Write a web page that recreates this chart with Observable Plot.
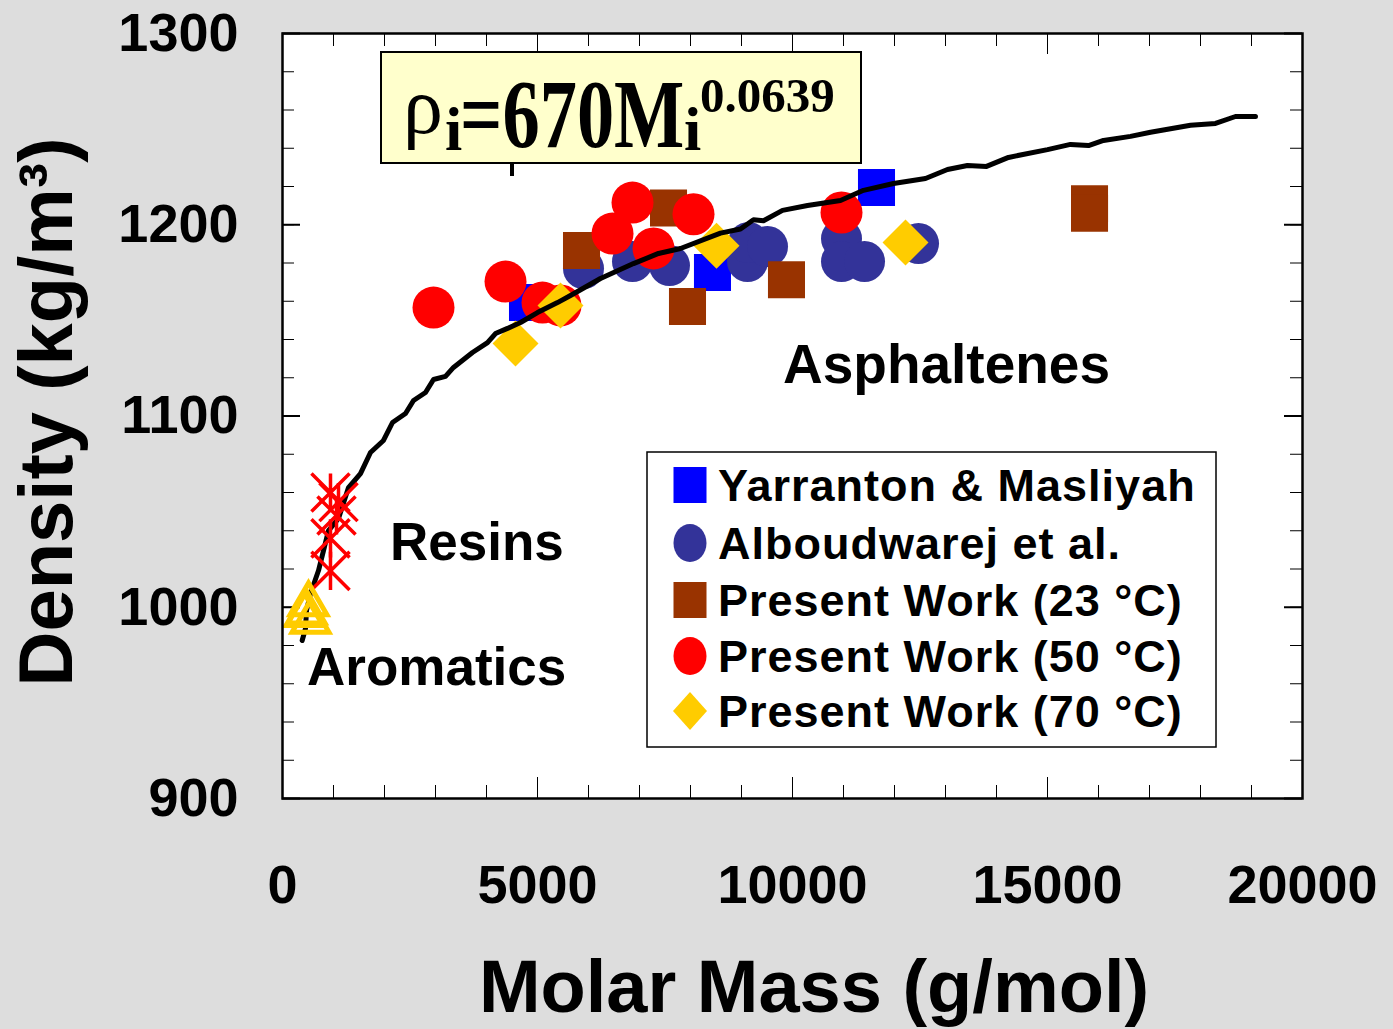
<!DOCTYPE html>
<html><head><meta charset="utf-8">
<script src="https://cdn.jsdelivr.net/npm/d3@7"></script>
<script src="https://cdn.jsdelivr.net/npm/@observablehq/plot@0.6"></script>
<style>
body{margin:0;background:#dddddd;}
#chart svg{display:block;}
</style>
</head><body><div id="chart"></div>
<script>
// ---------- data ----------
const yarrantonM   = [4804, 8431, 11647];
const yarrantonRho = [1159.3, 1175.0, 1219.5];

const alboudM   = [5902, 6863, 7588, 9118, 9137, 9510, 10961, 10961, 11412, 12471];
const alboudRho = [1177.1, 1180.8, 1178.7, 1180.8, 1190.7, 1188.6, 1192.7, 1180.8, 1180.8, 1190.2];

const pw23M   = [5863, 7569, 7941, 9882, 15824, 15824];
const pw23Rho = [1186.5, 1208.8, 1157.3, 1171.2, 1211.0, 1206.0];

const pw50M   = [2961, 4373, 5098, 5451, 6471, 6863, 7275, 8059, 10961];
const pw50Rho = [1156.7, 1170.3, 1159.3, 1157.8, 1195.4, 1211.6, 1187.6, 1205.5, 1206.4];

const pw70M   = [4569, 5451, 8510, 12216];
const pw70Rho = [1137.9, 1157.8, 1189.0, 1190.7];

const resinM   = [941, 1098, 1059, 941, 941];
const resinRho = [1060, 1055, 1048, 1036, 1019];

const aromM   = [510, 471, 549, 431];
const aromRho = [1001.6, 997.3, 992.5, 996.0];

const curveM   = [386, 451, 471, 549, 706, 902, 1098, 1294, 1529, 1725, 1980, 2157, 2412, 2569, 2804, 2961, 3196, 3353, 3725, 4020, 4176, 4412, 4667, 5000, 5392, 5647, 6235, 6882, 7373, 7804, 8588, 8980, 9235, 9431, 9804, 10294, 10941, 11392, 11980, 12608, 13039, 13431, 13804, 14235, 15000, 15451, 15804, 16098, 16627, 17020, 17804, 18294, 18686, 19078];
const curveRho = [982.6, 988.9, 998.3, 1007.2, 1019.2, 1040.1, 1046.4, 1062.6, 1069.9, 1080.9, 1087.2, 1096.6, 1101.3, 1108.1, 1112.3, 1119.1, 1120.7, 1125.4, 1133.2, 1138.4, 1143.1, 1145.8, 1148.9, 1154.1, 1159.3, 1163.0, 1171.9, 1179.7, 1185.0, 1187.6, 1195.6, 1197.8, 1202.6, 1202.1, 1207.5, 1210.1, 1212.7, 1218.0, 1221.6, 1224.2, 1228.9, 1231.0, 1230.5, 1235.2, 1239.3, 1242.0, 1241.4, 1244.1, 1246.2, 1248.4, 1252.0, 1253.0, 1256.6, 1256.6];

const xTickLabels = [0, 5000, 10000, 15000, 20000];
const yTickLabels = [900, 1000, 1100, 1200, 1300];
const xMinorTicks = d3.range(1000, 20000, 1000);
const yMinorTicks = d3.range(920, 1300, 20);

const seriesNames = ["Yarranton & Masliyah", "Alboudwarej et al.", "Present Work (23 °C)", "Present Work (50 °C)", "Present Work (70 °C)"];
const seriesColors = ["#0000FF", "#333399", "#993300", "#FF0000", "#FFCC00"];

// ---------- tables ----------
const zip = (ms, rs) => ms.map((m, i) => ({M: m, rho: rs[i]}));
const yarr = zip(yarrantonM, yarrantonRho);
const albo = zip(alboudM, alboudRho);
const p23 = zip(pw23M, pw23Rho);
const p50 = zip(pw50M, pw50Rho);
const p70 = zip(pw70M, pw70Rho);
const resins = zip(resinM, resinRho);
const arom = zip(aromM, aromRho);
const curve = zip(curveM, curveRho);

const asterisk = {
  draw(ctx, size) {
    const h = Math.sqrt(size) * 0.5;
    ctx.moveTo(0, -h); ctx.lineTo(0, h);
    ctx.moveTo(-h, -h); ctx.lineTo(h, h);
    ctx.moveTo(-h, h); ctx.lineTo(h, -h);
  }
};

const W = 1393, H = 1029;
const mL = 282, mR = 91, mT = 33, mB = 231;
const plotW = W - mL - mR, plotH = H - mT - mB;
const fmt = d => String(d);

const chart = Plot.plot({
  width: W, height: H,
  marginLeft: mL, marginRight: mR, marginTop: mT, marginBottom: mB,
  style: {background: "#dddddd", fontFamily: "'Liberation Sans', Arial, sans-serif"},
  x: {domain: [0, 20000]},
  y: {domain: [900, 1300]},
  marks: [
    Plot.frame({fill: "white", stroke: null}),
    // inward ticks
    Plot.tickX(xMinorTicks, {x: d => d, insetTop: plotH - 13, stroke: "#000", strokeWidth: 1}),
    Plot.tickX(xMinorTicks, {x: d => d, insetBottom: plotH - 13, stroke: "#000", strokeWidth: 1}),
    Plot.tickX(xTickLabels, {x: d => d, insetTop: plotH - 21, stroke: "#000", strokeWidth: 1}),
    Plot.tickX(xTickLabels, {x: d => d, insetBottom: plotH - 21, stroke: "#000", strokeWidth: 1}),
    Plot.tickY(yMinorTicks, {y: d => d, insetRight: plotW - 12, stroke: "#000", strokeWidth: 1}),
    Plot.tickY(yMinorTicks, {y: d => d, insetLeft: plotW - 12, stroke: "#000", strokeWidth: 1}),
    Plot.tickY(yTickLabels, {y: d => d, insetRight: plotW - 18, stroke: "#000", strokeWidth: 2}),
    Plot.tickY(yTickLabels, {y: d => d, insetLeft: plotW - 18, stroke: "#000", strokeWidth: 2}),
    Plot.axisX(xTickLabels, {tickSize: 0, tickPadding: 66, fontSize: 54, fontWeight: "bold", fill: "#000", label: null, tickFormat: fmt}),
    Plot.axisY(yTickLabels, {tickSize: 0, tickPadding: 44, fontSize: 54, fontWeight: "bold", fill: "#000", label: null, tickFormat: fmt}),
    // data
    Plot.dot(yarr, {x: "M", y: "rho", symbol: "square", r: 20.9, fill: seriesColors[0], stroke: null}),
    Plot.dot(albo, {x: "M", y: "rho", symbol: "circle", r: 20.5, fill: seriesColors[1], stroke: null}),
    Plot.dot(p23, {x: "M", y: "rho", symbol: "square", r: 20.9, fill: seriesColors[2], stroke: null}),
    Plot.dot(p50, {x: "M", y: "rho", symbol: "circle", r: 21, fill: seriesColors[3], stroke: null}),
    Plot.dot(p70, {x: "M", y: "rho", symbol: "diamond2", r: 20.7, fill: seriesColors[4], stroke: null}),
    Plot.line(curve, {x: "M", y: "rho", stroke: "#000", strokeWidth: 5, strokeLinejoin: "round"}),
    Plot.dot(resins, {x: "M", y: "rho", symbol: asterisk, r: 21.5, fill: "none", stroke: "#FF0000", strokeWidth: 3.5}),
    Plot.dot(arom, {x: "M", y: "rho", symbol: "triangle", r: 13.7, fill: "none", stroke: "#FFCC00", strokeWidth: 5}),
    Plot.frame({stroke: "#000", strokeWidth: 2.5})
  ]
});
document.getElementById("chart").appendChild(chart);

// ---------- annotations (layout) ----------
const svg = d3.select(chart);
const ann = svg.append("g").attr("text-anchor", "start");
const sans = "'Liberation Sans', Arial, sans-serif";
const serif = "'Liberation Serif', 'Times New Roman', serif";

// axis titles
ann.append("text").attr("transform", "translate(72,412) rotate(-90)")
  .attr("text-anchor", "middle").attr("font-family", sans).attr("font-weight", "bold")
  .attr("font-size", 76).attr("fill", "#000").text("Density (kg/m³)");
ann.append("text").attr("x", 814).attr("y", 1012)
  .attr("text-anchor", "middle").attr("font-family", sans).attr("font-weight", "bold")
  .attr("font-size", 74).attr("fill", "#000").text("Molar Mass (g/mol)");

// region labels
const regionLabels = [["Asphaltenes", 783, 383, 55], ["Resins", 390, 560, 53], ["Aromatics", 307, 685, 53]];
regionLabels.forEach(([t, x, y, fs]) => {
  ann.append("text").attr("x", x).attr("y", y).attr("text-anchor", "start").attr("font-family", sans).attr("font-weight", "bold")
    .attr("font-size", fs).attr("fill", "#000").text(t);
});

// small stray mark under the equation box
ann.append("line").attr("x1", 512).attr("x2", 512).attr("y1", 160).attr("y2", 176)
  .attr("stroke", "#000").attr("stroke-width", 4);

// equation box
ann.append("rect").attr("x", 381).attr("y", 52).attr("width", 480).attr("height", 111)
  .attr("fill", "#FFFFCC").attr("stroke", "#000").attr("stroke-width", 2);
ann.append("text").attr("x", 403).attr("y", 133).attr("text-anchor", "start").attr("font-family", serif)
  .attr("font-size", 80).attr("fill", "#000").text("ρ");
ann.append("text").attr("x", 445).attr("y", 150).attr("text-anchor", "start").attr("font-family", serif).attr("font-weight", "bold")
  .attr("font-size", 62).attr("fill", "#000").text("i");
ann.append("text").attr("transform", "translate(460,147) scale(0.76,1)").attr("text-anchor", "start").attr("font-family", serif)
  .attr("font-weight", "bold").attr("font-size", 98).attr("fill", "#000").text("=670M");
ann.append("text").attr("x", 684).attr("y", 150).attr("text-anchor", "start").attr("font-family", serif).attr("font-weight", "bold")
  .attr("font-size", 62).attr("fill", "#000").text("i");
ann.append("text").attr("x", 700).attr("y", 112).attr("text-anchor", "start").attr("font-family", serif).attr("font-weight", "bold")
  .attr("font-size", 49).attr("fill", "#000").text("0.0639");

// legend
const lg = ann.append("g");
lg.append("rect").attr("x", 647).attr("y", 452).attr("width", 569).attr("height", 295)
  .attr("fill", "white").attr("stroke", "#000").attr("stroke-width", 1.5);
const rowY = [485, 543, 600, 656, 711];
const shapes = ["square", "ellipse", "square", "ellipse", "diamond"];
seriesNames.forEach((name, i) => {
  const cy = rowY[i], cx = 690, c = seriesColors[i];
  if (shapes[i] === "square") {
    lg.append("rect").attr("x", cx - 16.5).attr("y", cy - 18).attr("width", 33).attr("height", 36).attr("fill", c);
  } else if (shapes[i] === "ellipse") {
    lg.append("ellipse").attr("cx", cx).attr("cy", cy).attr("rx", 16.5).attr("ry", 19).attr("fill", c);
  } else {
    lg.append("path").attr("d", `M${cx},${cy - 19}L${cx + 17},${cy}L${cx},${cy + 19}L${cx - 17},${cy}Z`).attr("fill", c);
  }
  lg.append("text").attr("x", 718).attr("y", cy + 16).attr("text-anchor", "start").attr("font-family", sans).attr("font-weight", "bold")
    .attr("font-size", 45).attr("letter-spacing", 1).attr("fill", "#000").text(name);
});
</script>
</body></html>
